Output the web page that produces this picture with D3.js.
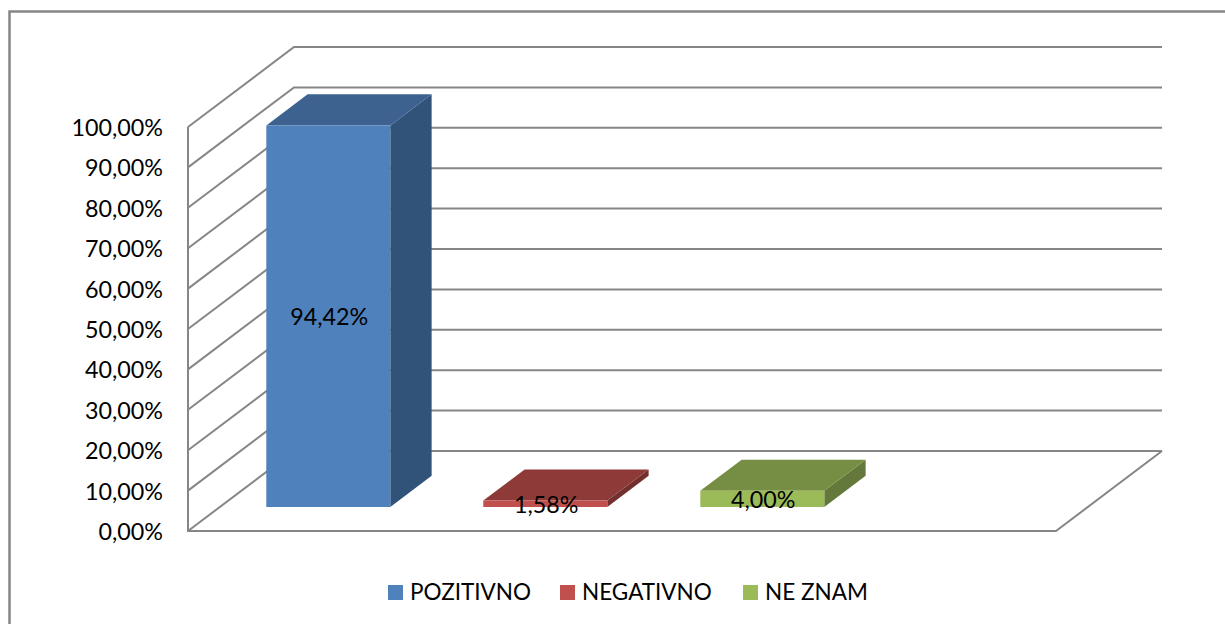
<!DOCTYPE html>
<html>
<head>
<meta charset="utf-8">
<script src="https://cdn.jsdelivr.net/npm/d3@7"></script>
<style>
  body { margin: 0; background: #fff; overflow: hidden; }
  text { font-family: Lato, "Open Sans", sans-serif; fill: #000; }
</style>
</head>
<body>
<div id="chart"></div>
<script>
// Values
const categories = ["POZITIVNO", "NEGATIVNO", "NE ZNAM"];
const values = [94.42, 1.58, 4.0];
const valueLabels = ["94,42%", "1,58%", "4,00%"];
const yTicks = [0, 10, 20, 30, 40, 50, 60, 70, 80, 90, 100];

// front, top, side shades of each bar
const frontColors = ["#4f81bd", "#c0504d", "#9bbb59"];
const topColors = ["#3d628f", "#8e3a38", "#768e44"];
const sideColors = ["#325379", "#722f2d", "#63783a"];

const width = 1225, height = 624;
const gridColor = "#868686";
const numberSize = 23.3;
const legendSize = 22.5;

const svg = d3.select("#chart").append("svg")
  .attr("width", width)
  .attr("height", height);

// 1. Chart frame: top and left edges are the only ones inside the crop
svg.append("path")
  .attr("d", "M9.5,624V11.5H1225")
  .attr("fill", "none")
  .attr("stroke", gridColor)
  .attr("stroke-width", 2.5);

// 2. Scales. Oblique projection: depth goes right and up
const depthX = 106, depthY = -80;
const barDepthStart = 0.3, barDepthEnd = 0.69;

const y = d3.scaleLinear().domain([0, 100]).range([531, 127]);

// fourth band stays empty, as in the original
const x = d3.scaleBand()
  .domain([...categories, ""])
  .range([188, 1056])
  .paddingInner(0.4286)
  .paddingOuter(0.2143);

const line = d3.line();
const shift = (p, d) => [p[0] + depthX * d, p[1] + depthY * d];

// 3. Walls and gridlines
const grid = svg.append("g")
  .attr("fill", "none")
  .attr("stroke", gridColor)
  .attr("stroke-width", 2);

grid.selectAll(".gridline")
  .data(yTicks)
  .enter()
  .append("path")
  .attr("class", "gridline")
  .attr("d", (d) => line([[188, y(d)], [188 + depthX, y(d) + depthY], [1056 + depthX, y(d) + depthY]]));

grid.append("path")
  .attr("d", line([[188, y(100)], [188, y(0)], [1056, y(0)], [1056 + depthX, y(0) + depthY]]));

// 4. Y axis
const fmt = d3.formatLocale({ decimal: ",", thousands: ".", grouping: [3], currency: ["", ""] }).format(".2f");

const yAxis = svg.append("g")
  .attr("transform", "translate(188,1)")
  .call(d3.axisLeft(y).tickValues(yTicks).tickSize(0).tickPadding(25).tickFormat((d) => fmt(d) + "%"));
yAxis.select(".domain").remove();
yAxis.selectAll("text")
  .style("font-size", numberSize + "px")
  .style("font-family", "Lato, 'Open Sans', sans-serif");

// 5. Bars: side, top and front faces
const bars = svg.selectAll(".bar")
  .data(categories)
  .enter()
  .append("g")
  .attr("class", "bar");

const corner = (c, i, side, level) => {
  const px = side === 0 ? x(c) : x(c) + x.bandwidth();
  return shift([px, y(level === 0 ? 0 : values[i])], barDepthStart);
};

bars.append("path")
  .attr("fill", (c, i) => sideColors[i])
  .attr("d", (c, i) => {
    const b = corner(c, i, 1, 0), t = corner(c, i, 1, 1), dd = barDepthEnd - barDepthStart;
    return line([b, t, shift(t, dd), shift(b, dd)]) + "Z";
  });

bars.append("path")
  .attr("fill", (c, i) => topColors[i])
  .attr("d", (c, i) => {
    const l = corner(c, i, 0, 1), r = corner(c, i, 1, 1), dd = barDepthEnd - barDepthStart;
    return line([l, r, shift(r, dd), shift(l, dd)]) + "Z";
  });

bars.append("path")
  .attr("fill", (c, i) => frontColors[i])
  .attr("d", (c, i) => line([corner(c, i, 0, 0), corner(c, i, 1, 0), corner(c, i, 1, 1), corner(c, i, 0, 1)]) + "Z");

// 6. Value labels, centred on the front face
bars.append("text")
  .attr("x", (c, i) => (corner(c, i, 0, 0)[0] + corner(c, i, 1, 0)[0]) / 2 + 1)
  .attr("y", (c, i) => (corner(c, i, 0, 0)[1] + corner(c, i, 0, 1)[1]) / 2 + 3)
  .attr("text-anchor", "middle")
  .attr("dominant-baseline", "middle")
  .style("font-size", numberSize + "px")
  .text((c, i) => valueLabels[i]);

// 7. Legend
const legendX = [388, 560, 743];
const legend = svg.selectAll(".legend")
  .data(categories)
  .enter()
  .append("g")
  .attr("class", "legend")
  .attr("transform", (c, i) => `translate(${legendX[i]},585)`);

legend.append("rect")
  .attr("width", 15)
  .attr("height", 15)
  .attr("fill", (c, i) => frontColors[i]);

legend.append("text")
  .attr("x", 22)
  .attr("y", 9)
  .attr("dominant-baseline", "middle")
  .style("font-size", legendSize + "px")
  .text((c) => c);
</script>
</body>
</html>
